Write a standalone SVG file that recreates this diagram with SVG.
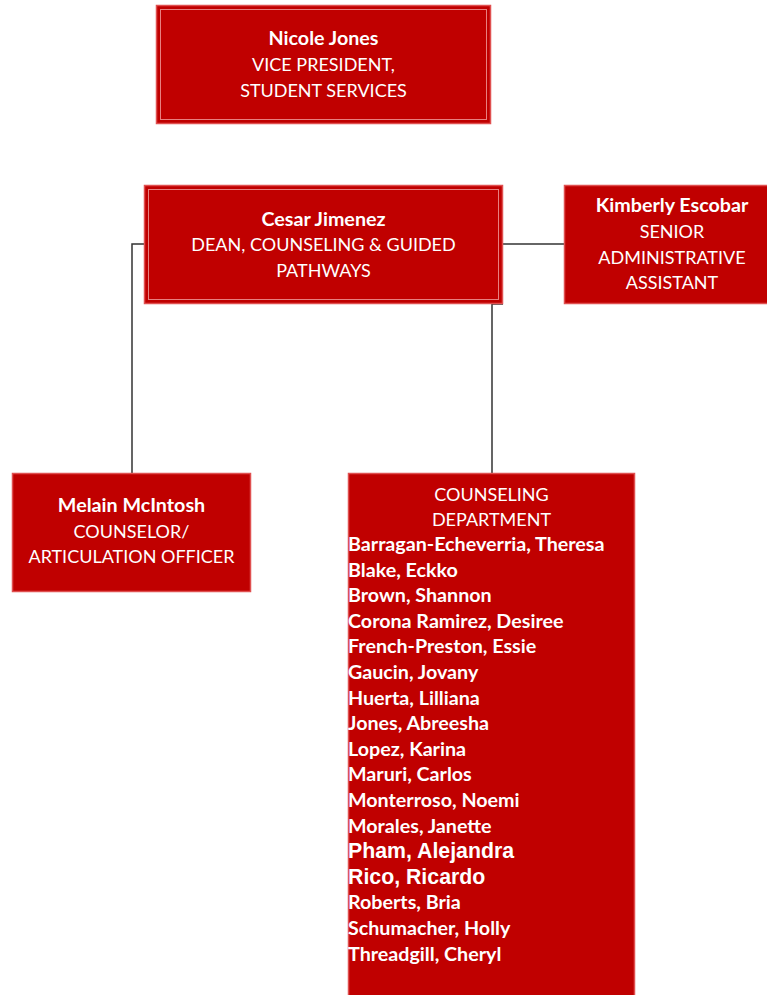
<svg xmlns="http://www.w3.org/2000/svg" width="767" height="995" viewBox="0 0 767 995">
<style>
.box{fill:#C00000;stroke:#E05050;stroke-width:1.5}
.inner{fill:none;stroke:#E88080;stroke-width:1}
.t{font-family:Lato,"Liberation Sans",sans-serif;fill:#fff;font-size:18px}
.c{text-anchor:middle}
.b{font-weight:bold;font-size:19.7px}
.a{font-family:"Liberation Sans",Arial,sans-serif;font-weight:bold;font-size:21.3px;fill:#fff}
.ln{fill:none;stroke:#333;stroke-width:1.5}
</style>
<rect width="767" height="995" fill="#fff"/>
<g id="connectors">
<polyline class="ln" points="144,244 132,244 132,473"/>
<line class="ln" x1="503" y1="244" x2="564" y2="244"/>
<polyline class="ln" points="503,304 492,304 492,473"/>
</g>
<g id="n1">
<rect class="box" x="156.5" y="5.5" width="334" height="118"/>
<rect class="inner" x="160.5" y="9.5" width="326" height="110"/>
<text class="t c b" x="323.5" y="45">Nicole Jones</text>
<text class="t c" x="323.5" y="71">VICE PRESIDENT,</text>
<text class="t c" x="323.5" y="97">STUDENT SERVICES</text>
</g>
<g id="n2">
<rect class="box" x="144.5" y="185.5" width="358" height="118"/>
<rect class="inner" x="148.5" y="189.5" width="350" height="110"/>
<text class="t c b" x="323.5" y="225.5">Cesar Jimenez</text>
<text class="t c" x="323.5" y="251">DEAN, COUNSELING &amp; GUIDED</text>
<text class="t c" x="323.5" y="276.5">PATHWAYS</text>
</g>
<g id="n3">
<rect class="box" x="564.5" y="185.5" width="218" height="118"/>
<text class="t c b" x="672" y="212">Kimberly Escobar</text>
<text class="t c" x="672" y="238">SENIOR</text>
<text class="t c" x="672" y="263.5">ADMINISTRATIVE</text>
<text class="t c" x="672" y="289">ASSISTANT</text>
</g>
<g id="n4">
<rect class="box" x="12.5" y="473.5" width="238" height="118"/>
<text class="t c b" x="131.5" y="512">Melain McIntosh</text>
<text class="t c" x="131.5" y="537.5">COUNSELOR/</text>
<text class="t c" x="131.5" y="563">ARTICULATION OFFICER</text>
</g>
<g id="n5">
<rect class="box" x="348.5" y="473.5" width="286" height="530"/>
<text class="t c" x="491.5" y="501">COUNSELING</text>
<text class="t c" x="491.5" y="525.5">DEPARTMENT</text>
<text class="t b" x="348" y="551">Barragan-Echeverria, Theresa</text>
<text class="t b" x="348" y="576.6">Blake, Eckko</text>
<text class="t b" x="348" y="602.2">Brown, Shannon</text>
<text class="t b" x="348" y="627.8">Corona Ramirez, Desiree</text>
<text class="t b" x="348" y="653.4">French-Preston, Essie</text>
<text class="t b" x="348" y="679">Gaucin, Jovany</text>
<text class="t b" x="348" y="704.6">Huerta, Lilliana</text>
<text class="t b" x="348" y="730.2">Jones, Abreesha</text>
<text class="t b" x="348" y="755.8">Lopez, Karina</text>
<text class="t b" x="348" y="781.4">Maruri, Carlos</text>
<text class="t b" x="348" y="807">Monterroso, Noemi</text>
<text class="t b" x="348" y="832.6">Morales, Janette</text>
<text class="a" x="348" y="858.2">Pham, Alejandra</text>
<text class="a" x="348" y="883.8">Rico, Ricardo</text>
<text class="t b" x="348" y="909.4">Roberts, Bria</text>
<text class="t b" x="348" y="935">Schumacher, Holly</text>
<text class="t b" x="348" y="960.6">Threadgill, Cheryl</text>
</g>
</svg>
